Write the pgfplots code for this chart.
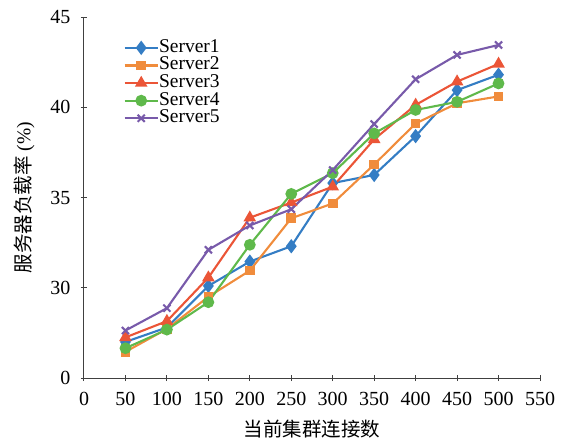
\documentclass[border=0pt]{standalone}
\usepackage{pgfplots}
\pgfplotsset{compat=1.18}
\usepackage{fontspec}
\setmainfont{Liberation Serif}
\newfontfamily\cjk{Noto Sans CJK SC}
\definecolor{c1}{RGB}{52,125,196}
\definecolor{c2}{RGB}{240,140,60}
\definecolor{c3}{RGB}{235,85,55}
\definecolor{c4}{RGB}{95,185,75}
\definecolor{c5}{RGB}{120,90,170}
\definecolor{axc}{RGB}{64,64,64}
\begin{document}
\begin{tikzpicture}
\begin{axis}[
  scale only axis, width=456pt, height=361pt,
  xmin=0, xmax=550, ymin=25, ymax=45,
  axis lines=left, axis line style={-, draw=axc, line width=1pt},
  xtick={0,50,...,550}, ytick={25,30,35,40,45},
  yticklabels={0,30,35,40,45},
  major tick length=6pt, tick style={draw=axc, line width=1pt},
  /pgf/number format/assume math mode=true,
  /pgf/number format/set thousands separator={},
  ticklabel style={font=\fontsize{20}{20}\selectfont},
  yticklabel style={xshift=-7pt},
  xticklabel style={yshift=-8pt},
  xlabel={\cjk 当前集群连接数},
  ylabel={{\cjk 服务器负载率} (\%)},
  label style={font=\fontsize{19.5}{19.5}\selectfont},
  xlabel style={yshift=-7pt},
  ylabel style={yshift=9pt},
  legend cell align=left,
  legend style={at={(rel axis cs:0.08,0.945)}, anchor=north west, draw=none, fill=none,
    font=\fontsize{19.5}{19.5}\selectfont, row sep=0pt,
    nodes={inner sep=0.3pt, text height=13pt, text depth=4pt}},
  legend image code/.code={\draw[mark repeat=2,mark phase=2] plot coordinates {(0pt,0pt) (16.5pt,0pt) (33pt,0pt)};},
  every axis plot/.append style={line width=2.1pt},
]
\addplot[c1, mark=diamond*, mark size=5.5pt, mark options={solid}] coordinates {
(50,27.0)(100,27.8)(150,30.1)(200,31.45)(250,32.3)(300,35.8)(350,36.25)(400,38.4)(450,40.95)(500,41.8)};
\addlegendentry{Server1}
\addplot[c2, mark=square*, mark size=3.8pt] coordinates {
(50,26.45)(100,27.72)(150,29.5)(200,30.95)(250,33.85)(300,34.67)(350,36.83)(400,39.1)(450,40.22)(500,40.6)};
\addlegendentry{Server2}
\addplot[c3, mark=triangle*, mark size=5.2pt] coordinates {
(50,27.25)(100,28.15)(150,30.56)(200,33.88)(250,34.72)(300,35.6)(350,38.22)(400,40.13)(450,41.42)(500,42.4)};
\addlegendentry{Server3}
\addplot[c4, mark=*, mark size=4.8pt] coordinates {
(50,26.65)(100,27.68)(150,29.2)(200,32.38)(250,35.2)(300,36.35)(350,38.55)(400,39.85)(450,40.3)(500,41.32)};
\addlegendentry{Server4}
\addplot[c5, mark=x, mark size=5pt] coordinates {
(50,27.63)(100,28.87)(150,32.1)(200,33.45)(250,34.35)(300,36.52)(350,39.07)(400,41.55)(450,42.9)(500,43.45)};
\addlegendentry{Server5}
\coordinate (o) at (rel axis cs:0,0);
\end{axis}
\path (o) ++(-84pt,-63pt) rectangle ++(565pt,441pt);
\end{tikzpicture}
\end{document}
